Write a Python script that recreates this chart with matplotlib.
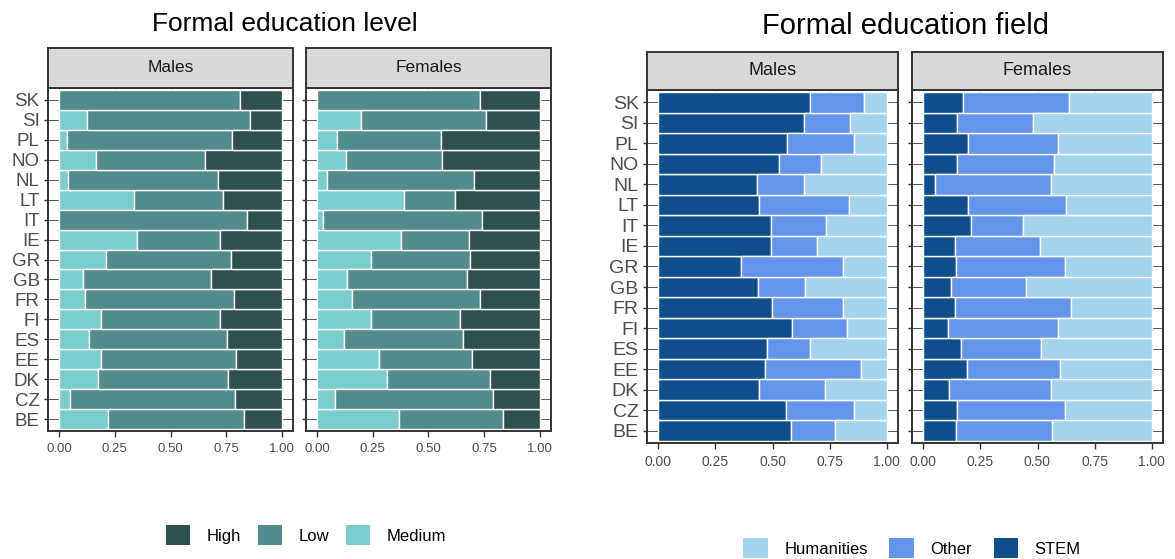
import matplotlib.pyplot as plt
from matplotlib.patches import Patch

plt.rcParams['font.family'] = ['Liberation Sans', 'DejaVu Sans']

countries = ['BE', 'CZ', 'DK', 'EE', 'ES', 'FI', 'FR', 'GB', 'GR', 'IE',
             'IT', 'LT', 'NL', 'NO', 'PL', 'SI', 'SK']

# education level, males
lvl_m_medium = [0.220, 0.050, 0.175, 0.190, 0.133, 0.190, 0.117, 0.106, 0.210, 0.349,
                0.000, 0.334, 0.040, 0.165, 0.034, 0.123, 0.000]
lvl_m_low = [0.612, 0.741, 0.585, 0.606, 0.621, 0.530, 0.669, 0.577, 0.561, 0.371,
             0.843, 0.400, 0.674, 0.488, 0.741, 0.735, 0.811]
lvl_m_high = [0.168, 0.208, 0.240, 0.204, 0.246, 0.280, 0.214, 0.317, 0.229, 0.280,
              0.157, 0.266, 0.286, 0.347, 0.225, 0.142, 0.189]

# education level, females
lvl_f_medium = [0.369, 0.082, 0.313, 0.278, 0.122, 0.242, 0.158, 0.133, 0.242, 0.375,
                0.025, 0.390, 0.046, 0.128, 0.087, 0.196, 0.000]
lvl_f_low = [0.467, 0.708, 0.462, 0.419, 0.535, 0.400, 0.575, 0.539, 0.445, 0.307,
             0.714, 0.231, 0.657, 0.432, 0.467, 0.562, 0.733]
lvl_f_high = [0.164, 0.210, 0.225, 0.303, 0.343, 0.358, 0.267, 0.328, 0.313, 0.318,
              0.261, 0.379, 0.297, 0.440, 0.446, 0.242, 0.267]

# education field, males
fld_m_stem = [0.579, 0.559, 0.441, 0.467, 0.476, 0.585, 0.496, 0.437, 0.364, 0.492,
              0.492, 0.441, 0.431, 0.528, 0.565, 0.636, 0.666]
fld_m_other = [0.195, 0.297, 0.288, 0.420, 0.190, 0.241, 0.315, 0.205, 0.447, 0.205,
               0.241, 0.395, 0.205, 0.185, 0.291, 0.204, 0.235]
fld_m_hum = [0.226, 0.144, 0.271, 0.113, 0.334, 0.174, 0.189, 0.358, 0.189, 0.303,
             0.267, 0.164, 0.364, 0.287, 0.144, 0.160, 0.099]

# education field, females
fld_f_stem = [0.144, 0.149, 0.113, 0.190, 0.164, 0.107, 0.138, 0.123, 0.144, 0.138,
              0.210, 0.196, 0.051, 0.149, 0.196, 0.149, 0.174]
fld_f_other = [0.419, 0.471, 0.446, 0.409, 0.353, 0.481, 0.511, 0.327, 0.476, 0.374,
               0.225, 0.428, 0.508, 0.424, 0.392, 0.333, 0.466]
fld_f_hum = [0.437, 0.380, 0.441, 0.401, 0.483, 0.412, 0.351, 0.550, 0.380, 0.488,
             0.565, 0.376, 0.441, 0.427, 0.412, 0.518, 0.360]

lvl_colors = {'High': '#2F4F4F', 'Low': '#528B8B', 'Medium': '#79CDCD'}
fld_colors = {'Humanities': '#A4D3EE', 'Other': '#6495ED', 'STEM': '#104E8B'}

W, H = 1175, 559
fig = plt.figure(figsize=(W / 100, H / 100), dpi=100)


def box(x0, y0, x1, y1):
    return [x0 / W, 1 - y1 / H, (x1 - x0) / W, (y1 - y0) / H]


def panel(x0, x1, ytop, ybot, striph, label, series, show_y, ylab, xlab, stripfs):
    ax = fig.add_axes(box(x0, ytop, x1, ybot))
    ypos = list(range(len(countries)))
    ax.set_axisbelow(True)
    for v in [0, 0.25, 0.5, 0.75, 1.0]:
        ax.axvline(v, color='#c8c8c8', lw=0.6, zorder=0)
    for y in ypos:
        ax.axhline(y, color='#555555', lw=0.7, zorder=0)
    left = [0.0] * len(countries)
    for vals, col in series:
        ax.barh(ypos, vals, left=left, height=1.0, color=col,
                edgecolor='white', linewidth=1.0, zorder=2)
        left = [a + b for a, b in zip(left, vals)]
    ax.set_xlim(-0.05, 1.05)
    ax.set_ylim(-0.6, len(countries) - 0.4)
    ax.set_xticks([0, 0.25, 0.5, 0.75, 1.0])
    ax.set_xticklabels(['0.00', '0.25', '0.50', '0.75', '1.00'])
    ax.set_yticks(ypos)
    if show_y:
        ax.set_yticklabels(countries)
    else:
        ax.set_yticklabels([])
    ax.tick_params(axis='x', length=4, width=1, color='#333333',
                   labelsize=xlab, labelcolor='#4D4D4D', pad=5)
    ax.tick_params(axis='y', length=3, width=1, color='#333333',
                   labelsize=ylab, labelcolor='#4D4D4D', pad=3)
    for s in ax.spines.values():
        s.set_color('#333333')
        s.set_linewidth(1.4)
    st = fig.add_axes(box(x0, ytop - striph, x1, ytop))
    st.set_facecolor('#D9D9D9')
    st.set_xticks([])
    st.set_yticks([])
    for s in st.spines.values():
        s.set_color('#333333')
        s.set_linewidth(1.4)
    st.text(0.5, 0.5, label, ha='center', va='center', fontsize=stripfs,
            color='#1A1A1A', transform=st.transAxes)
    return ax


# left chart: education level
panel(48, 293, 88, 431, 40, 'Males',
      [(lvl_m_medium, lvl_colors['Medium']), (lvl_m_low, lvl_colors['Low']),
       (lvl_m_high, lvl_colors['High'])], True, 13.5, 9.5, 12.5)
panel(306, 551, 88, 431, 40, 'Females',
      [(lvl_f_medium, lvl_colors['Medium']), (lvl_f_low, lvl_colors['Low']),
       (lvl_f_high, lvl_colors['High'])], False, 13.5, 9.5, 12.5)
fig.text(285 / W, 1 - 24 / H, 'Formal education level', ha='center', va='center',
         fontsize=19)

# right chart: education field
panel(647, 898, 90, 443, 38, 'Males',
      [(fld_m_stem, fld_colors['STEM']), (fld_m_other, fld_colors['Other']),
       (fld_m_hum, fld_colors['Humanities'])], True, 14, 10, 13)
panel(912, 1163, 90, 443, 38, 'Females',
      [(fld_f_stem, fld_colors['STEM']), (fld_f_other, fld_colors['Other']),
       (fld_f_hum, fld_colors['Humanities'])], False, 14, 10, 13)
fig.text(905 / W, 1 - 26 / H, 'Formal education field', ha='center', va='center',
         fontsize=21)

lvl_handles = [Patch(facecolor=c, edgecolor='none', label=k) for k, c in lvl_colors.items()]
fig.legend(handles=lvl_handles, loc='center', ncol=3, frameon=False,
           bbox_to_anchor=(306 / W, 1 - 535 / H), fontsize=12,
           handlelength=1.45, handleheight=1.45, columnspacing=1.0, handletextpad=1.0)

fld_handles = [Patch(facecolor=c, edgecolor='none', label=k) for k, c in fld_colors.items()]
fig.legend(handles=fld_handles, loc='center', ncol=3, frameon=False,
           bbox_to_anchor=(912 / W, 1 - 548 / H), fontsize=12,
           handlelength=1.45, handleheight=1.45, columnspacing=1.3, handletextpad=1.0)

fig.savefig('out.png', dpi=100)
